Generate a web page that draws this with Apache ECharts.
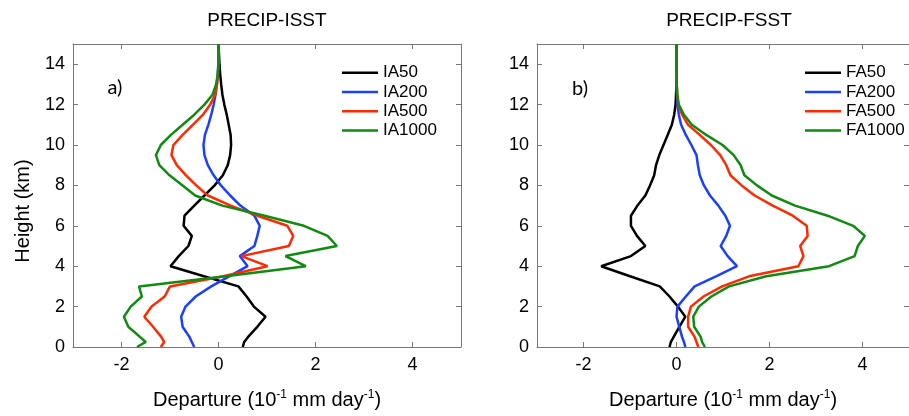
<!DOCTYPE html>
<html>
<head>
<meta charset="utf-8">
<script src="https://cdn.jsdelivr.net/npm/echarts@6/dist/echarts.min.js"></script>
<style>html,body{margin:0;padding:0;background:#fff}#c{width:909px;height:416px}</style>
</head>
<body>
<div id="c"></div>
<script>
// Heights (km)
const heights = [0, 0.25, 0.5, 1, 1.5, 2, 2.5, 3, 3.5, 4, 4.5, 5, 5.5, 6, 6.5, 7, 7.5, 8, 8.5, 9, 9.5, 10, 10.5, 11, 11.5, 12, 12.5, 13, 13.5, 14, 14.5, 15];

// Panel a) PRECIP-ISST departures (10^-1 mm/day)
const IA50   = [0.50, 0.53, 0.61, 0.80, 0.97, 0.73, 0.58, 0.41, -0.30, -0.99, -0.82, -0.62, -0.55, -0.72, -0.70, -0.50, -0.29, -0.08, 0.09, 0.19, 0.24, 0.26, 0.25, 0.21, 0.17, 0.12, 0.08, 0.055, 0.035, 0.02, 0.01, 0];
const IA200  = [-0.50, -0.55, -0.60, -0.74, -0.77, -0.68, -0.47, -0.15, 0.22, 0.60, 0.44, 0.74, 0.80, 0.85, 0.74, 0.45, 0.24, 0.05, -0.10, -0.22, -0.29, -0.31, -0.28, -0.21, -0.15, -0.10, -0.06, -0.035, -0.015, -0.005, 0, 0];
const IA500  = [-1.19, -1.12, -1.18, -1.35, -1.53, -1.38, -1.11, -1.00, 0.10, 1.01, 0.47, 1.45, 1.54, 1.42, 0.80, 0.25, -0.22, -0.46, -0.67, -0.86, -0.97, -0.93, -0.74, -0.53, -0.32, -0.17, -0.07, -0.03, -0.01, 0, 0, 0];
const IA1000 = [-1.68, -1.50, -1.62, -1.86, -1.95, -1.81, -1.58, -1.64, 0.15, 1.80, 1.38, 2.44, 2.25, 1.76, 0.95, 0.08, -0.48, -0.74, -1.01, -1.22, -1.29, -1.19, -0.98, -0.74, -0.50, -0.29, -0.12, -0.05, -0.015, 0, 0, 0];

// Panel b) PRECIP-FSST departures
const FA50   = [-0.15, -0.12, -0.06, 0.06, 0.19, 0.03, -0.15, -0.36, -1.00, -1.62, -0.98, -0.67, -0.85, -0.98, -0.98, -0.84, -0.67, -0.57, -0.48, -0.44, -0.37, -0.28, -0.19, -0.10, -0.05, -0.02, -0.01, 0, 0, 0, 0, 0];
const FA200  = [0.19, 0.16, 0.12, 0.06, 0.00, 0.02, 0.20, 0.39, 0.85, 1.30, 1.10, 0.95, 1.07, 1.15, 1.05, 0.90, 0.72, 0.59, 0.50, 0.46, 0.43, 0.32, 0.20, 0.10, 0.05, 0.02, 0.01, 0.005, 0, 0, 0, 0];
const FA500  = [0.47, 0.43, 0.39, 0.25, 0.25, 0.31, 0.58, 0.98, 1.56, 2.62, 2.73, 2.66, 2.82, 2.80, 2.50, 2.07, 1.68, 1.40, 1.16, 1.07, 0.94, 0.74, 0.50, 0.25, 0.12, 0.04, 0.015, 0.005, 0, 0, 0, 0];
const FA1000 = [0.61, 0.55, 0.52, 0.38, 0.36, 0.48, 0.75, 1.13, 1.93, 3.28, 3.83, 3.90, 4.05, 3.80, 3.25, 2.55, 2.05, 1.73, 1.46, 1.38, 1.23, 0.99, 0.64, 0.33, 0.16, 0.05, 0.015, 0.005, 0, 0, 0, 0];

const xTicks = [-2, 0, 2, 4];
const panelTitles = ['PRECIP-ISST', 'PRECIP-FSST'];
const panelTags = ['a)', 'b)'];
const yName = 'Height (km)';
const xName = 'Departure (10{s|-1} mm day{s|-1})';
const namesA = ['IA50', 'IA200', 'IA500', 'IA1000'];
const namesB = ['FA50', 'FA200', 'FA500', 'FA1000'];
const colors = ['#000000', '#1a3fff', '#ff2a00', '#118a11'];

const FONT = 'Liberation Sans, Arial, sans-serif';
const axisCol = '#777777';

function xAx(gi, bottom) {
  return {
    type: 'value', gridIndex: gi, min: -3, max: 5,
    position: bottom ? 'bottom' : 'top',
    axisLine: {show: true, onZero: false, lineStyle: {color: axisCol, width: 1}},
    axisTick: {show: true, inside: true, length: 5, customValues: xTicks, lineStyle: {color: axisCol}},
    axisLabel: bottom ? {show: true, customValues: xTicks, fontFamily: FONT, fontSize: 18, color: '#000', margin: 9} : {show: false},
    splitLine: {show: false},
    name: bottom ? xName : '',
    nameLocation: 'middle', nameGap: 42,
    nameTextStyle: {fontFamily: FONT, fontSize: 20, color: '#000', lineHeight: 22,
      rich: {s: {fontFamily: FONT, fontSize: 12, verticalAlign: 'top', lineHeight: 12, padding: [0, 0, 8, 0]}}}
  };
}
function yAx(gi, left) {
  return {
    type: 'value', gridIndex: gi, min: 0, max: 15, interval: 2,
    position: left ? 'left' : 'right',
    axisLine: {show: true, onZero: false, lineStyle: {color: axisCol, width: 1}},
    axisTick: {show: true, inside: true, length: 5, lineStyle: {color: axisCol}},
    axisLabel: left ? {show: true, fontFamily: FONT, fontSize: 18, color: '#000', margin: 8, showMaxLabel: false} : {show: false},
    splitLine: {show: false}
  };
}

function mkSeries(names, arrays, gi) {
  return names.map((n, k) => ({
    name: n, type: 'line', xAxisIndex: gi, yAxisIndex: gi,
    data: heights.map((h, i) => [arrays[k][i], h]),
    symbol: 'none', showSymbol: false, smooth: false,
    lineStyle: {color: colors[k], width: 2.5},
    itemStyle: {color: colors[k]},
    z: 2 + k, animation: false
  }));
}

function mkLegend(names, left, top) {
  return {data: names, orient: 'vertical', left: left, top: top, icon: 'rect',
    itemWidth: 36, itemHeight: 2.5, itemGap: 0, padding: 0, selectedMode: false,
    textStyle: {fontFamily: FONT, fontSize: 17, color: '#000', lineHeight: 19.3}};
}

const chart = echarts.init(document.getElementById('c'), null, {renderer: 'canvas'});
chart.setOption({
  animation: false,
  backgroundColor: '#fff',
  grid: [
    {left: 73, top: 44, width: 388, height: 308, containLabel: false},
    {left: 537, top: 44, width: 385, height: 308, containLabel: false}
  ],
  xAxis: [xAx(0, true), xAx(1, true), xAx(0, false), xAx(1, false)],
  yAxis: [yAx(0, true), yAx(1, true), yAx(0, false), yAx(1, false)],
  legend: [mkLegend(namesA, 342, 63), mkLegend(namesB, 805, 63)],
  graphic: [
    {type: 'text', x: 267, y: 21, style: {text: panelTitles[0], font: '19px ' + FONT, fill: '#000', textAlign: 'center', textVerticalAlign: 'middle'}},
    {type: 'text', x: 729, y: 21, style: {text: panelTitles[1], font: '19px ' + FONT, fill: '#000', textAlign: 'center', textVerticalAlign: 'middle'}},
    {type: 'text', x: 115, y: 88, style: {text: panelTags[0], font: '20px Lato, sans-serif', fill: '#000', textAlign: 'center', textVerticalAlign: 'middle'}},
    {type: 'text', x: 580, y: 89, style: {text: panelTags[1], font: '20px Lato, sans-serif', fill: '#000', textAlign: 'center', textVerticalAlign: 'middle'}},
    {type: 'text', x: 23, y: 211, rotation: Math.PI / 2, style: {text: yName, font: '20px ' + FONT, fill: '#000', textAlign: 'center', textVerticalAlign: 'middle'}}
  ],
  series: mkSeries(namesA, [IA50, IA200, IA500, IA1000], 0).concat(mkSeries(namesB, [FA50, FA200, FA500, FA1000], 1))
});
</script>
</body>
</html>
